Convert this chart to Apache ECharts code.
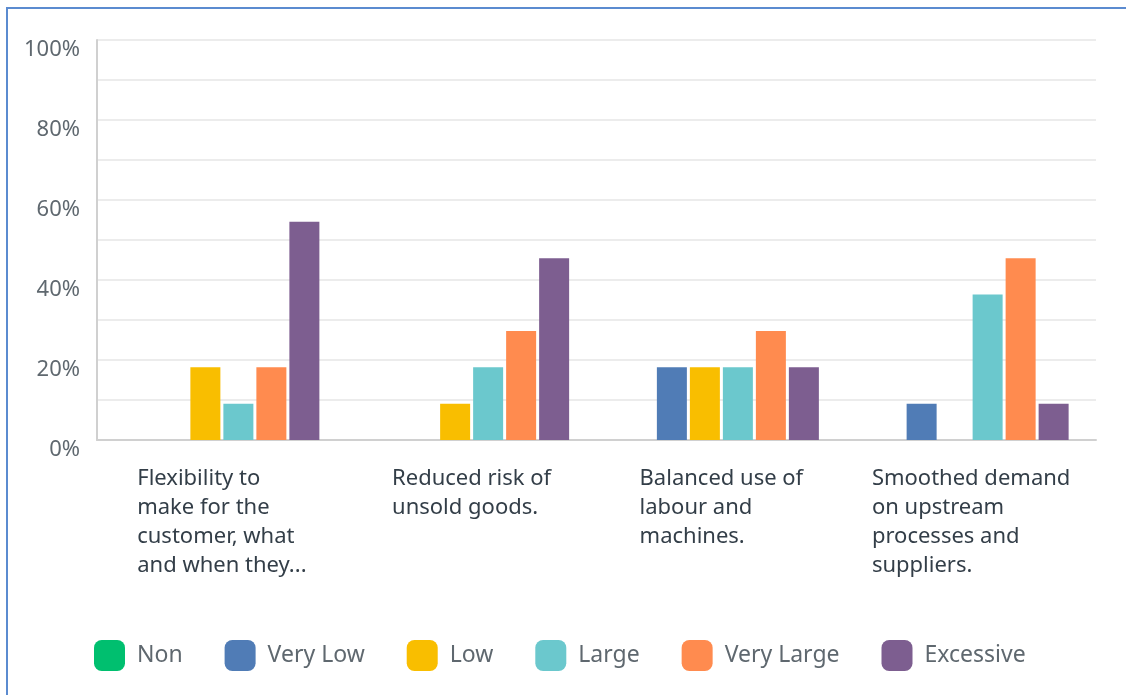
<!DOCTYPE html>
<html>
<head>
<meta charset="utf-8">
<script src="https://cdn.jsdelivr.net/npm/echarts@6/dist/echarts.min.js"></script>
<style>
  html, body { margin: 0; padding: 0; background: #fff; }
  .frame {
    position: absolute;
    left: 6px;
    top: 7px;
    width: 1200px;
    height: 800px;
    border-top: 2px solid #5b8bd0;
    border-left: 2px solid #5b8bd0;
  }
  #chart { position: absolute; left: 0; top: 0; width: 1126px; height: 695px; }
</style>
</head>
<body>
<div class="frame"></div>
<div id="chart"></div>
<script>
// categories (line breaks as shown under the axis)
const categories = [
  'Flexibility to\nmake for the\ncustomer, what\nand when they...',
  'Reduced risk of\nunsold goods.',
  'Balanced use of\nlabour and\nmachines.',
  'Smoothed demand\non upstream\nprocesses and\nsuppliers.'
]
const seriesNames = ['Non', 'Very Low', 'Low', 'Large', 'Very Large', 'Excessive']
const colors = ['#00bf6f', '#507cb6', '#f9be00', '#6bc8cd', '#ff8b4f', '#7d5e90']

// percentages
const nonValues = [0, 0, 0, 0]
const veryLowValues = [0, 0, 18.18, 9.09]
const lowValues = [18.18, 9.09, 18.18, 0]
const largeValues = [9.09, 18.18, 18.18, 36.36]
const veryLargeValues = [18.18, 27.27, 27.27, 45.45]
const excessiveValues = [54.55, 45.45, 18.18, 9.09]

const yTicks = [0, 20, 40, 60, 80, 100]

const allValues = [nonValues, veryLowValues, lowValues, largeValues, veryLargeValues, excessiveValues]

const chart = echarts.init(document.getElementById('chart'))
const font = '"Noto Sans", sans-serif'

chart.setOption({
  animation: false,
  grid: { left: 97, right: 30, top: 40, bottom: 255 },
  xAxis: {
    type: 'category',
    data: categories,
    axisLine: { lineStyle: { color: '#d0d0d0', width: 2 } },
    axisTick: { show: false },
    axisLabel: {
      interval: 0,
      margin: 24,
      verticalAlign: 'top',
      align: 'center',
      formatter: v => v.split('\n').map(l => '{a|' + l + '}').join('\n'),
      rich: {
        a: {
          align: 'left',
          fontFamily: font,
          fontSize: 22,
          lineHeight: 29,
          color: '#333e48'
        }
      }
    }
  },
  yAxis: {
    type: 'value',
    min: 0,
    max: 100,
    interval: 10,
    axisLine: { show: true, lineStyle: { color: '#d0d0d0', width: 2 } },
    axisTick: { show: false },
    splitLine: { lineStyle: { color: '#ececec', width: 2 } },
    axisLabel: {
      margin: 17,
      verticalAlign: 'top',
      padding: [-1, 0, 0, 0],
      fontFamily: font,
      fontSize: 22,
      color: '#5f686f',
      formatter: v => yTicks.includes(v) ? v + '%' : ''
    }
  },
  legend: {
    left: 89,
    top: 635,
    itemWidth: 31,
    itemHeight: 31,
    itemGap: 42,
    icon: 'roundRect',
    textStyle: {
      fontFamily: font,
      fontSize: 23,
      color: '#5f686f',
      padding: [0, 0, 0, 7]
    },
    data: seriesNames
  },
  series: seriesNames.map((name, i) => ({
    name: name,
    type: 'bar',
    data: allValues[i],
    barWidth: 30,
    barGap: '10%',
    itemStyle: { color: colors[i] }
  }))
})
</script>
</body>
</html>
